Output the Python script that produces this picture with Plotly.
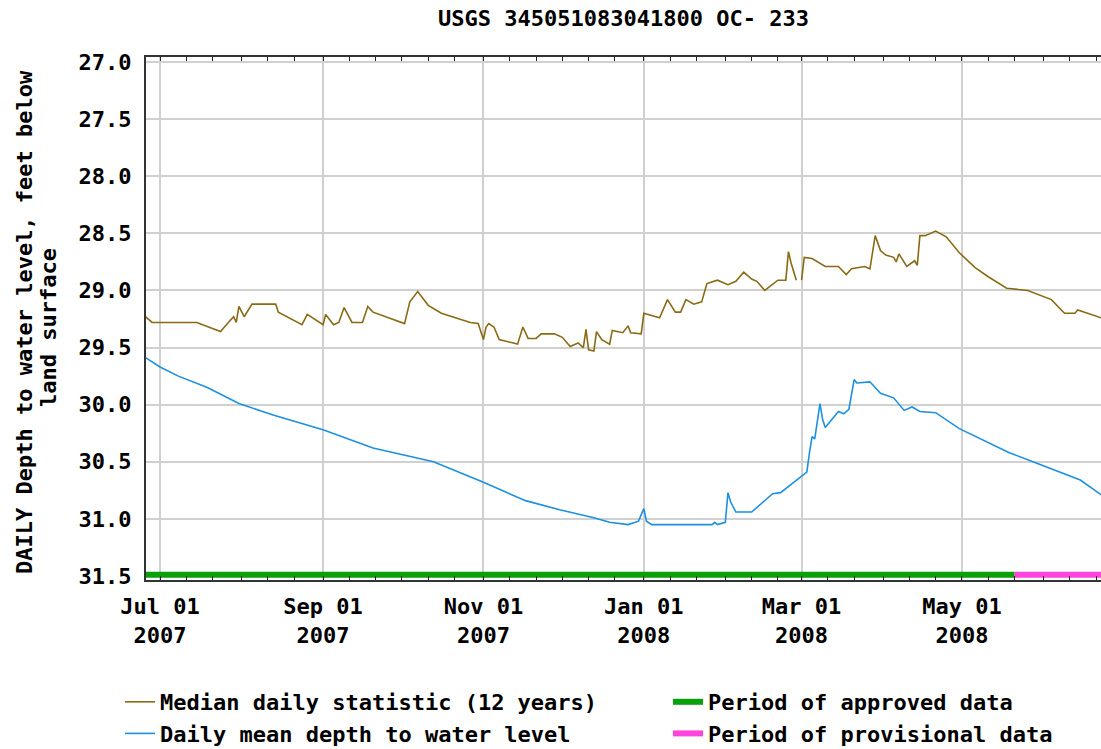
import plotly.graph_objects as go

title_text = "USGS 345051083041800 OC- 233"
y_title_line1 = "DAILY Depth to water level, feet below"
y_title_line2 = "land surface"

median_dates = [
    "2007-06-25", "2007-06-28", "2007-07-15", "2007-07-24", "2007-07-27", "2007-07-29", "2007-07-30",
    "2007-07-31", "2007-08-02", "2007-08-05", "2007-08-14", "2007-08-15", "2007-08-24", "2007-08-26",
    "2007-09-01", "2007-09-02", "2007-09-05", "2007-09-07", "2007-09-09", "2007-09-12", "2007-09-16",
    "2007-09-18", "2007-09-20", "2007-10-02", "2007-10-04", "2007-10-07", "2007-10-11", "2007-10-16",
    "2007-10-27", "2007-10-30", "2007-11-01", "2007-11-02", "2007-11-03", "2007-11-05", "2007-11-07",
    "2007-11-14", "2007-11-16", "2007-11-18", "2007-11-21", "2007-11-23", "2007-11-28", "2007-12-01",
    "2007-12-04", "2007-12-07", "2007-12-09", "2007-12-10", "2007-12-11", "2007-12-13", "2007-12-14",
    "2007-12-16", "2007-12-19", "2007-12-20", "2007-12-24", "2007-12-26", "2007-12-27", "2007-12-31",
    "2008-01-01", "2008-01-07", "2008-01-10", "2008-01-13", "2008-01-15", "2008-01-17", "2008-01-20",
    "2008-01-23", "2008-01-25", "2008-01-29", "2008-02-02", "2008-02-05", "2008-02-08", "2008-02-11",
    "2008-02-13", "2008-02-16", "2008-02-21", "2008-02-24", "2008-02-25", "2008-02-26", "2008-02-28",
    "2008-02-29", "2008-03-01", "2008-03-02", "2008-03-05", "2008-03-10", "2008-03-15", "2008-03-18",
    "2008-03-20", "2008-03-25", "2008-03-27", "2008-03-28", "2008-03-29", "2008-03-31", "2008-04-02",
    "2008-04-05", "2008-04-06", "2008-04-07", "2008-04-10", "2008-04-13", "2008-04-14", "2008-04-15",
    "2008-04-17", "2008-04-21", "2008-04-25", "2008-04-30", "2008-05-06", "2008-05-11", "2008-05-18",
    "2008-05-26", "2008-06-04", "2008-06-09", "2008-06-13", "2008-06-14", "2008-06-23",
]
median_vals = [
    29.22, 29.28, 29.28, 29.36, 29.28, 29.23, 29.28,
    29.14, 29.23, 29.12, 29.12, 29.19, 29.30, 29.21,
    29.30, 29.21, 29.30, 29.28, 29.15, 29.28, 29.28,
    29.14, 29.19, 29.29, 29.10, 29.01, 29.13, 29.20,
    29.28, 29.29, 29.43, 29.32, 29.29, 29.32, 29.43,
    29.47, 29.32, 29.42, 29.42, 29.38, 29.38, 29.41,
    29.49, 29.46, 29.50, 29.34, 29.52, 29.53, 29.36,
    29.43, 29.47, 29.35, 29.37, 29.31, 29.37, 29.38,
    29.20, 29.24, 29.08, 29.19, 29.19, 29.08, 29.12,
    29.10, 28.94, 28.91, 28.95, 28.92, 28.84, 28.90,
    28.92, 29.00, 28.91, 28.91, 28.66, 28.76, 28.91,
    None, 28.91, 28.71, 28.72, 28.79, 28.79, 28.86,
    28.81, 28.79, 28.81, 28.66, 28.52, 28.65, 28.69,
    28.71, 28.75, 28.68, 28.79, 28.74, 28.78, 28.52,
    28.52, 28.48, 28.53, 28.67, 28.80, 28.88, 28.98,
    29.00, 29.08, 29.20, 29.20, 29.17, 29.24,
]

mean_dates = [
    "2007-06-25", "2007-07-01", "2007-07-08", "2007-07-19", "2007-07-31", "2007-08-13", "2007-09-01",
    "2007-09-20", "2007-10-13", "2007-10-27", "2007-11-01", "2007-11-17", "2007-11-30", "2007-12-13",
    "2007-12-19", "2007-12-26", "2007-12-30", "2008-01-01", "2008-01-02", "2008-01-04", "2008-01-27",
    "2008-01-28", "2008-01-29", "2008-02-01", "2008-02-02", "2008-02-03", "2008-02-05", "2008-02-11",
    "2008-02-19", "2008-02-22", "2008-02-29", "2008-03-03", "2008-03-04", "2008-03-05", "2008-03-06",
    "2008-03-07", "2008-03-08", "2008-03-09", "2008-03-10", "2008-03-15", "2008-03-17", "2008-03-19",
    "2008-03-20", "2008-03-21", "2008-03-22", "2008-03-27", "2008-03-31", "2008-04-05", "2008-04-09",
    "2008-04-12", "2008-04-15", "2008-04-21", "2008-04-30", "2008-05-07", "2008-05-19", "2008-05-28",
    "2008-06-07", "2008-06-15", "2008-06-23",
]
mean_vals = [
    29.58, 29.67, 29.75, 29.85, 29.99, 30.09, 30.22,
    30.38, 30.50, 30.63, 30.68, 30.84, 30.92, 30.99,
    31.03, 31.05, 31.02, 30.91, 31.02, 31.05, 31.05,
    31.03, 31.05, 31.03, 30.77, 30.85, 30.94, 30.94,
    30.78, 30.77, 30.64, 30.59, 30.42, 30.28, 30.30,
    30.13, 29.99, 30.13, 30.20, 30.06, 30.08, 30.04,
    29.92, 29.78, 29.81, 29.80, 29.90, 29.94, 30.05,
    30.02, 30.06, 30.07, 30.21, 30.29, 30.42, 30.50,
    30.59, 30.66, 30.79,
]

approved_dates = ["2007-06-25", "2008-05-21"]
provisional_dates = ["2008-05-21", "2008-06-24"]
period_level = [31.49, 31.49]

x_tickvals = ["2007-07-01", "2007-09-01", "2007-11-01", "2008-01-01", "2008-03-01", "2008-05-01"]
x_ticktext = ["Jul 01<br>2007", "Sep 01<br>2007", "Nov 01<br>2007",
              "Jan 01<br>2008", "Mar 01<br>2008", "May 01<br>2008"]
y_tickvals = [27.0, 27.5, 28.0, 28.5, 29.0, 29.5, 30.0, 30.5, 31.0, 31.5]
y_ticktext = ["27.0", "27.5", "28.0", "28.5", "29.0", "29.5", "30.0", "30.5", "31.0", "31.5"]

months = ["2007-06", "2007-07", "2007-08", "2007-09", "2007-10", "2007-11", "2007-12",
          "2008-01", "2008-02", "2008-03", "2008-04", "2008-05", "2008-06"]
minor_vals = [m + "-" + d for m in months for d in ("01", "11", "21")]

FONT = "DejaVu Sans Mono"
fs = 22
W, H = 1101, 749
ML, MT, MB = 146, 57, 169
PW, PH = W - ML, H - MT - MB

fig = go.Figure()
fig.add_trace(go.Scatter(x=median_dates, y=median_vals, mode="lines",
                         name="Median daily statistic (12 years)",
                         line=dict(color="#8B6A14", width=1.6), connectgaps=False,
                         legend="legend", legendgroup="a"))
fig.add_trace(go.Scatter(x=mean_dates, y=mean_vals, mode="lines",
                         name="Daily mean depth to water level",
                         line=dict(color="#1E90E0", width=1.6), legend="legend", legendgroup="b"))
fig.add_trace(go.Scatter(x=approved_dates, y=period_level, mode="lines",
                         name="Period of approved data",
                         line=dict(color="#0AA00A", width=6), legend="legend2", legendgroup="c"))
fig.add_trace(go.Scatter(x=provisional_dates, y=period_level, mode="lines",
                         name="Period of provisional data",
                         line=dict(color="#FF44DD", width=6), legend="legend2", legendgroup="d"))

leg_common = dict(xref="container", yref="container", y=1 - 681 / H,
                  xanchor="left", yanchor="top", orientation="v", tracegroupgap=0,
                  font=dict(family=FONT, size=fs, weight="bold"), bgcolor="rgba(0,0,0,0)")

fig.update_layout(
    width=W, height=H,
    margin=dict(l=ML, r=0, t=MT, b=MB, autoexpand=False),
    paper_bgcolor="white", plot_bgcolor="white",
    font=dict(family=FONT, size=fs, color="black", weight="bold"),
    title=dict(text=title_text, x=0.5, xref="paper", xanchor="center",
               y=1 - 18 / H, yref="container", yanchor="middle",
               font=dict(family=FONT, size=fs, weight="bold")),
    showlegend=True,
    legend=dict(x=120 / W, **leg_common),
    legend2=dict(x=668 / W, **leg_common),
    xaxis=dict(
        type="date", range=["2007-06-25 16:00", "2008-06-22 21:00"], automargin=False,
        tickmode="array", tickvals=x_tickvals, ticktext=x_ticktext,
        showgrid=True, gridcolor="#D0D0D0", gridwidth=2,
        showline=True, linecolor="#333333", linewidth=2, mirror="ticks",
        ticks="inside", ticklen=4, tickcolor="#222222",
        minor=dict(tickmode="array", tickvals=minor_vals, ticks="inside", ticklen=4,
                   tickcolor="#222222", showgrid=False),
        ticklabelstandoff=6, zeroline=False,
        tickfont=dict(family=FONT, size=fs, weight="bold"),
    ),
    yaxis=dict(
        range=[31.535, 26.956], automargin=False,
        tickmode="array", tickvals=y_tickvals, ticktext=y_ticktext,
        showgrid=True, gridcolor="#D0D0D0", gridwidth=2,
        showline=True, linecolor="#333333", linewidth=2, mirror=False,
        ticks="", ticklabelstandoff=8, zeroline=False,
        tickfont=dict(family=FONT, size=fs, weight="bold"),
    ),
    annotations=[
        dict(text=y_title_line1, textangle=-90, xref="paper", yref="paper",
             x=(25 - ML) / PW, y=(H - MB - 322) / PH, xanchor="center", yanchor="middle",
             showarrow=False, font=dict(family=FONT, size=fs, weight="bold")),
        dict(text=y_title_line2, textangle=-90, xref="paper", yref="paper",
             x=(48 - ML) / PW, y=(H - MB - 328) / PH, xanchor="center", yanchor="middle",
             showarrow=False, font=dict(family=FONT, size=fs, weight="bold")),
    ],
)

fig.write_html("out.html", config={"displayModeBar": False},
               post_script="document.body.style.margin='0px';")
